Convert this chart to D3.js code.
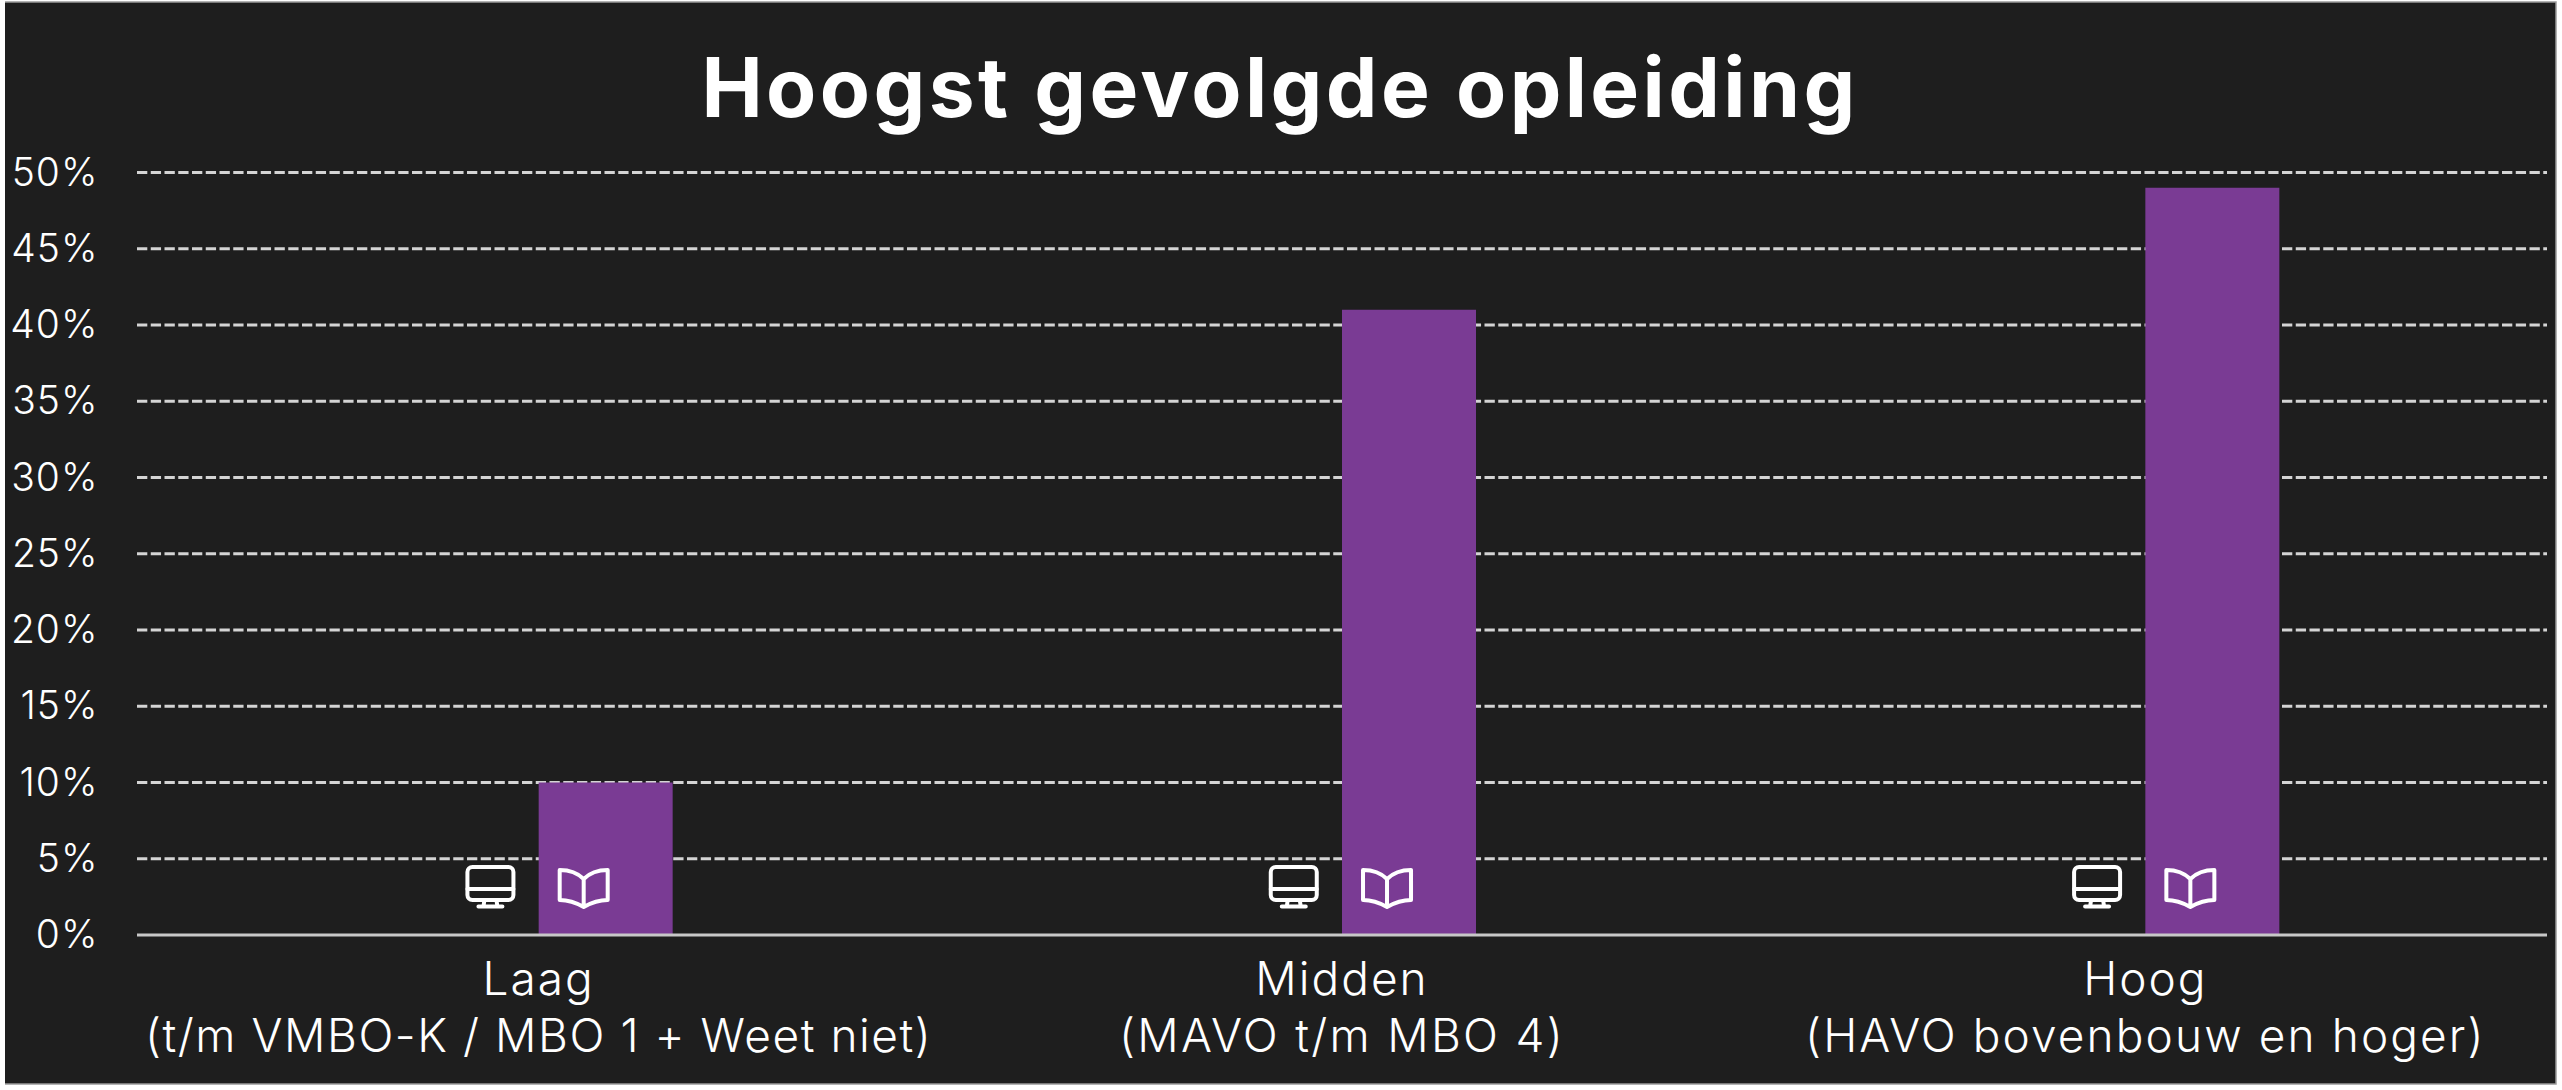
<!DOCTYPE html>
<html><head><meta charset="utf-8">
<script src="https://cdn.jsdelivr.net/npm/d3@7/dist/d3.min.js"></script>
<style>
html,body{margin:0;padding:0;background:#fff;overflow:hidden}
svg{display:block}
text{font-family:Inter,"Open Sans",sans-serif;fill:#fff}
</style></head><body>
<svg id="c" width="2562" height="1090"></svg>
<script>
const titleText = "Hoogst gevolgde opleiding";
const categories = ["Laag","Midden","Hoog"];
const subLabels = ["(t/m VMBO-K / MBO 1 + Weet niet)","(MAVO t/m MBO 4)","(HAVO bovenbouw en hoger)"];
const seriesNames = ["computer","boek"];
const seriesComputer = [0,0,0];
const seriesBoek = [10,41,49];
const yTicks = [0,5,10,15,20,25,30,35,40,45,50];

const svg = d3.select("#c");
const frame = {l:5,t:2,r:2556,b:1084};
const plot = {l:137,r:2547,t:172.5,b:935};
const subSpacing = [1.55,2.3,2.1];

svg.append("rect").attr("x",frame.l).attr("y",frame.t).attr("width",frame.r-frame.l).attr("height",frame.b-frame.t)
  .attr("fill","#1e1e1e");
svg.append("path").attr("d",`M${frame.l},${frame.t}H${frame.r}V${frame.b}H${frame.l}`)
  .attr("fill","none").attr("stroke","#9a9a9a").attr("stroke-width",1.5);

const x0 = d3.scaleBand().domain(categories).range([plot.l,plot.r]);
const groupW = 268;
const x1 = d3.scaleBand().domain(seriesNames).range([0,groupW]);
const y = d3.scaleLinear().domain([0,50]).range([plot.b,plot.t]);
const groupX = c => x0(c)+x0.bandwidth()/2-groupW/2;

// gridlines
svg.append("g").selectAll("line").data(yTicks.filter(d=>d>0)).join("line")
  .attr("x1",plot.l).attr("x2",plot.r).attr("y1",d=>y(d)).attr("y2",d=>y(d))
  .attr("stroke","#d4d4d4").attr("stroke-width",2.8).attr("stroke-dasharray","10.3 3.45");

// bars
const rows = categories.map((c,i)=>({c,computer:seriesComputer[i],boek:seriesBoek[i]}));
svg.append("g").selectAll("rect").data(rows).join("rect")
  .attr("x",d=>groupX(d.c)+x1("boek")).attr("width",x1.bandwidth())
  .attr("y",d=>y(d.boek)).attr("height",d=>y(0)-y(d.boek))
  .attr("fill","#7a3b94");

// axis line
svg.append("line").attr("x1",plot.l).attr("x2",plot.r).attr("y1",y(0)).attr("y2",y(0))
  .attr("stroke","#c8c8c8").attr("stroke-width",3);

// y labels
svg.append("g").selectAll("text").data(yTicks).join("text")
  .attr("x",98.5).attr("y",d=>y(d)+13).attr("text-anchor","end")
  .attr("font-size",39).attr("font-weight",350).attr("letter-spacing",1).text(d=>d+"%");

// x labels
const gx = svg.append("g").selectAll("g").data(categories).join("g");
gx.append("text").attr("x",c=>x0(c)+x0.bandwidth()/2).attr("y",995).attr("text-anchor","middle")
  .attr("font-size",46).attr("font-weight",350).attr("letter-spacing",2).text(c=>c);
gx.append("text").attr("x",c=>x0(c)+x0.bandwidth()/2).attr("y",1052).attr("text-anchor","middle")
  .attr("font-size",46).attr("font-weight",350).attr("letter-spacing",(c,i)=>subSpacing[i]).text((c,i)=>subLabels[i]);

// title
svg.append("text").attr("x",1280).attr("y",117).attr("text-anchor","middle")
  .attr("font-size",82).attr("font-weight",700).attr("letter-spacing",3.4).text(titleText);

// icons
const ic = svg.append("g").attr("fill","none").attr("stroke","#fff").attr("stroke-width",4)
  .attr("stroke-linecap","round").attr("stroke-linejoin","round");
categories.forEach(c=>{
  const cx = groupX(c);
  const m = ic.append("g").attr("transform",`translate(${cx+x1("computer")+x1.bandwidth()*0.64},${y(0)})`);
  m.append("rect").attr("x",-23).attr("y",-68).attr("width",46).attr("height",33).attr("rx",5);
  m.append("line").attr("x1",-23).attr("x2",23).attr("y1",-46).attr("y2",-46);
  m.append("path").attr("d","M-6,-35 L-7,-28.5 M6,-35 L7,-28.5 M-12,-28.5 H12");
  const b = ic.append("g").attr("transform",`translate(${cx+x1("boek")+x1.bandwidth()*0.336},${y(0)})`);
  b.append("path").attr("d","M0,-56 C-6,-62 -14,-65 -24,-65 V-35 C-14,-35 -7,-32 0,-28 C7,-32 14,-35 24,-35 V-65 C14,-65 6,-62 0,-56 V-28");
});
</script>
</body></html>
